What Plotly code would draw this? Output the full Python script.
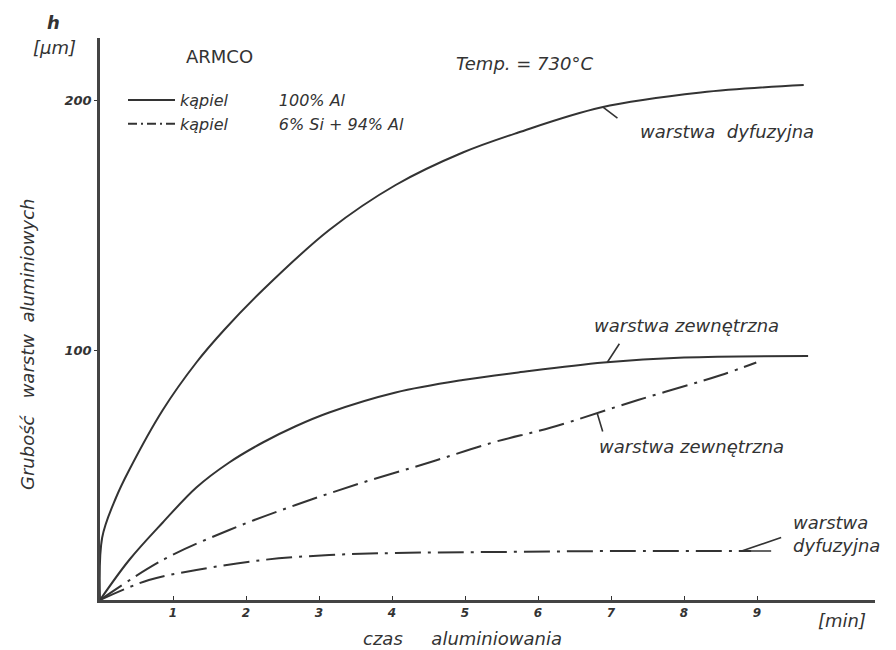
import numpy as np
import plotly.graph_objects as go

# ---- data (time [min], thickness [µm]) ----
t_dyf_al = [0, 0.03, 0.22, 0.40, 0.86, 1.32, 1.70, 2.23, 3.14, 4.05, 4.97, 5.73, 6.86, 8.23, 9.64]
h_dyf_al = [0, 25, 41, 52, 76, 95, 108, 124, 148, 166, 179, 187, 197, 203, 206]

t_zew_al = [0, 0.40, 0.86, 1.32, 1.77, 2.23, 2.68, 3.14, 4.05, 4.97, 5.73, 6.90, 8.00, 9.70]
h_zew_al = [0, 16, 31, 45, 55, 63, 69.5, 75, 83, 88, 91, 95, 97, 97.6]

t_zew_si = [0, 0.86, 1.77, 2.68, 3.60, 4.51, 5.38, 6.18, 7.37, 8.51, 8.99]
h_zew_si = [0, 16, 28, 38, 47, 55, 63, 69, 80, 90, 95]

t_dyf_si = [0, 0.67, 1.32, 2.23, 3.14, 4.05, 5.42, 7.10, 8.92]
h_dyf_si = [0, 8, 12, 16, 18, 18.8, 19.2, 19.6, 19.6]

x_ticks = [1, 2, 3, 4, 5, 6, 7, 8, 9]
y_ticks = [100, 200]

legend_names = ["kąpiel", "kąpiel"]
legend_baths = ["100% Al", "6% Si + 94% Al"]

INK = "#333333"
FONT = "DejaVu Sans"
NB = "\u00a0"
SOLID = "solid"
DASHDOT = "26px,7px,3px,7px"
DASHDOT_KEY = "9px,4px,2px,4px"

fig = go.Figure()
fig.add_trace(go.Scatter(x=t_dyf_al, y=h_dyf_al, mode="lines", showlegend=False,
                         line=dict(color=INK, width=2, shape="spline", dash=SOLID)))
fig.add_trace(go.Scatter(x=t_zew_al, y=h_zew_al, mode="lines", showlegend=False,
                         line=dict(color=INK, width=2, shape="spline", dash=SOLID)))
fig.add_trace(go.Scatter(x=t_zew_si, y=h_zew_si, mode="lines", showlegend=False,
                         line=dict(color=INK, width=2, shape="spline", dash=DASHDOT)))
fig.add_trace(go.Scatter(x=t_dyf_si, y=h_dyf_si, mode="lines", showlegend=False,
                         line=dict(color=INK, width=2, shape="spline", dash=DASHDOT)))
# legend keys (one per bath)
for nm, bath, dsh in zip(legend_names, legend_baths, [SOLID, DASHDOT_KEY]):
    fig.add_trace(go.Scatter(x=[None], y=[None], mode="lines", name=nm + NB * 10 + bath,
                             line=dict(color=INK, width=2, dash=dsh)))

L, R, T, B = 100, 21, 38, 50
W, H = 896, 650
PX_PER_MIN = 73.0
PX_PER_UM = 2.5
xmax = (W - L - R) / PX_PER_MIN
ymax = (H - T - B) / PX_PER_UM


def px(x):
    return (x - L) / (W - L - R)


def py(y):
    return (H - B - y) / (H - T - B)


ann = []


def text(x, y, s, size=18, style="italic", **kw):
    d = dict(xref="paper", yref="paper", x=px(x), y=py(y), text=s, showarrow=False,
             font=dict(family=FONT, size=size, color=INK, style=style), xanchor="center", yanchor="middle")
    d.update(kw)
    ann.append(d)


def leader(tx, ts, hs, ax, ay):
    yy = float(np.interp(tx, ts, hs))
    ann.append(dict(x=tx, y=yy, xref="x", yref="y", text="", showarrow=True, arrowhead=0,
                    arrowwidth=1.6, arrowcolor=INK, ax=ax, ay=ay, standoff=0, startstandoff=0))


text(53, 23, "<b>h</b>", size=18)
text(54, 47, "[μm]", size=18)
text(219, 56, "ARMCO", size=18, style="normal")
text(524, 64, "Temp. = 730°C", size=18)
text(727, 131, "warstwa" + NB * 2 + "dyfuzyjna", size=18)
text(686, 325, "warstwa zewnętrzna", size=18)
text(691, 447, "warstwa zewnętrzna", size=18)
text(791, 534, "warstwa<br>dyfuzyjna", size=18, xanchor="left", align="left")
text(842, 620, "[min]", size=18)
text(462, 638, "czas" + NB * 5 + "aluminiowania", size=18)
text(27, 345, "Grubość" + NB * 3 + "warstw" + NB * 2 + "aluminiowych", size=18, textangle=-90)

leader(6.89, t_dyf_al, h_dyf_al, 16, 12)
leader(6.95, t_zew_al, h_zew_al, 13, -20)
leader(6.81, t_zew_si, h_zew_si, 6, 20)
leader(8.79, t_dyf_si, h_dyf_si, 41, -14)
leader(8.79, t_dyf_si, h_dyf_si, 31, 0)

fig.update_layout(
    width=W, height=H,
    margin=dict(l=L, r=R, t=T, b=B),
    paper_bgcolor="white", plot_bgcolor="white",
    font=dict(family=FONT, color=INK),
    annotations=ann,
    showlegend=True,
    legend=dict(x=px(123), y=py(83), xanchor="left", yanchor="top", bgcolor="rgba(0,0,0,0)",
                font=dict(family=FONT, size=16, color=INK, style="italic"),
                itemwidth=47, tracegroupgap=0),
    xaxis=dict(range=[0, xmax], showgrid=False, zeroline=False, showline=True, linecolor="#444444", linewidth=2.5,
               tickvals=x_ticks, ticktext=[str(v) for v in x_ticks], ticks="inside", ticklen=4, tickwidth=1,
               tickcolor=INK, tickfont=dict(family=FONT, size=12, color=INK, style="italic", weight="bold")),
    yaxis=dict(range=[0, ymax], showgrid=False, zeroline=False, showline=True, linecolor="#444444", linewidth=2.5,
               tickvals=y_ticks, ticktext=[str(v) for v in y_ticks], ticks="outside", ticklen=3, tickwidth=1,
               tickcolor=INK, tickfont=dict(family=FONT, size=13, color=INK, style="italic", weight="bold")),
)

fig.write_html("out.html", config={"displayModeBar": False},
               post_script="document.body.style.margin='0px';")
